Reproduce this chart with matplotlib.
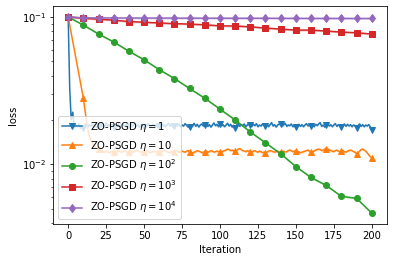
import matplotlib as mpl
mpl.use('Agg')
import matplotlib.pyplot as plt
import numpy as np

# loss curves (per iteration for eta=1 and eta=10, every 10 iterations for the others)
iters = np.arange(0, 201)
iters10 = np.arange(0, 201, 10)

# values in units of 1e-4
loss_eta1 = [
    1000, 330, 200, 226, 178, 186, 180, 189, 176, 183,
    176, 185, 190, 179, 186, 181, 188, 179, 184, 177,
    183, 188, 180, 185, 178, 190, 182, 186, 179, 184,
    180, 186, 181, 188, 177, 184, 189, 181, 185, 179,
    182, 187, 180, 185, 191, 181, 186, 178, 184, 188,
    180, 185, 182, 189, 179, 184, 187, 181, 186, 178,
    183, 189, 181, 186, 180, 185, 190, 182, 187, 179,
    181, 186, 183, 188, 180, 185, 182, 189, 184, 179,
    180, 186, 183, 190, 181, 187, 179, 185, 188, 182,
    184, 189, 181, 186, 179, 185, 191, 183, 187, 180,
    188, 183, 186, 180, 185, 190, 182, 187, 179, 184,
    177, 185, 190, 181, 186, 183, 188, 180, 185, 189,
    186, 181, 187, 183, 189, 180, 185, 182, 188, 184,
    183, 187, 180, 186, 192, 182, 186, 179, 185, 188,
    187, 182, 186, 190, 181, 185, 183, 188, 180, 184,
    178, 184, 187, 181, 186, 180, 185, 189, 182, 186,
    181, 186, 180, 187, 183, 188, 192, 181, 185, 179,
    184, 188, 182, 186, 180, 185, 189, 181, 186, 183,
    178, 184, 188, 181, 187, 182, 186, 180, 185, 183,
    177, 183, 188, 181, 186, 180, 185, 182, 186, 180,
    171]

loss_eta10 = [
    1000, 880, 775, 683, 601, 530, 467, 411, 362, 319,
    282, 236, 198, 172, 155, 145, 139, 134, 131, 129,
    127, 125, 124, 122, 121, 123, 122, 120, 121, 123,
    122, 120, 121, 124, 123, 121, 122, 124, 122, 120,
    121, 123, 122, 121, 123, 125, 123, 122, 121, 122,
    121, 123, 124, 122, 120, 121, 123, 122, 121, 123,
    122, 121, 123, 125, 124, 122, 121, 120, 122, 121,
    122, 124, 123, 121, 122, 123, 122, 121, 123, 124,
    122, 121, 119, 121, 122, 124, 123, 122, 120, 121,
    122, 123, 121, 122, 124, 123, 121, 122, 123, 122,
    122, 121, 123, 124, 125, 127, 126, 124, 125, 123,
    123, 124, 127, 128, 126, 124, 123, 122, 124, 123,
    122, 121, 123, 124, 122, 121, 123, 122, 120, 121,
    120, 121, 123, 124, 123, 122, 121, 122, 123, 121,
    121, 122, 123, 121, 122, 124, 125, 124, 122, 123,
    123, 121, 122, 120, 121, 122, 123, 124, 125, 123,
    121, 122, 123, 125, 126, 127, 126, 124, 125, 127,
    128, 127, 126, 124, 123, 122, 124, 125, 123, 122,
    123, 124, 122, 121, 123, 124, 125, 124, 122, 121,
    118, 120, 123, 126, 127, 125, 123, 120, 116, 113,
    111]

loss_eta100 = [0.1, 0.0880, 0.0766, 0.0676, 0.0585, 0.0512, 0.0439, 0.0382, 0.0327, 0.0281,
               0.0237, 0.0200, 0.0166, 0.0140, 0.0118, 0.00966, 0.00815, 0.00720, 0.00607,
               0.00589, 0.00467]
loss_eta1000 = [0.1, 0.0980, 0.0965, 0.0950, 0.0930, 0.0920, 0.0910, 0.0900, 0.0894, 0.0884,
                0.0870, 0.0867, 0.0857, 0.0840, 0.0827, 0.0814, 0.0814, 0.0802, 0.0789,
                0.0781, 0.0765]
loss_eta10000 = [0.1, 0.0985, 0.0984, 0.0983, 0.0983, 0.0982, 0.0982, 0.0981, 0.0981, 0.0980,
                 0.0980, 0.0979, 0.0979, 0.0979, 0.0978, 0.0978, 0.0977, 0.0977, 0.0977,
                 0.0976, 0.0976]

labels = [r'ZO-PSGD $\eta=1$', r'ZO-PSGD $\eta=10$', r'ZO-PSGD $\eta=10^2$',
          r'ZO-PSGD $\eta=10^3$', r'ZO-PSGD $\eta=10^4$']

colors = ["#1f77b4", "#ff7f0e", "#2ca02c", "#d62728", "#9467bd"]
markers = ['v', '^', 'o', 's', 'd']

series = [
    (iters, np.array(loss_eta1) * 1e-4, 10),
    (iters, np.array(loss_eta10) * 1e-4, 10),
    (iters10, np.array(loss_eta100), 1),
    (iters10, np.array(loss_eta1000), 1),
    (iters10, np.array(loss_eta10000), 1),
]

fig, ax = plt.subplots(figsize=(394/72, 262/72), dpi=72)
fig.subplots_adjust(left=0.1345, right=0.982, top=0.977, bottom=0.145)

band = 0.015
for i, (x, y, me) in enumerate(series):
    ax.fill_between(x, y*(1-band), y*(1+band), color=colors[i], alpha=0.3, linewidth=0)
    ax.plot(x, y, color=colors[i], marker=markers[i], markevery=me, label=labels[i])

ax.set_yscale('log')
ax.set_xlabel('Iteration')
ax.set_ylabel('loss')
ax.legend(loc='lower left')

plt.savefig('out.png', dpi=72)
